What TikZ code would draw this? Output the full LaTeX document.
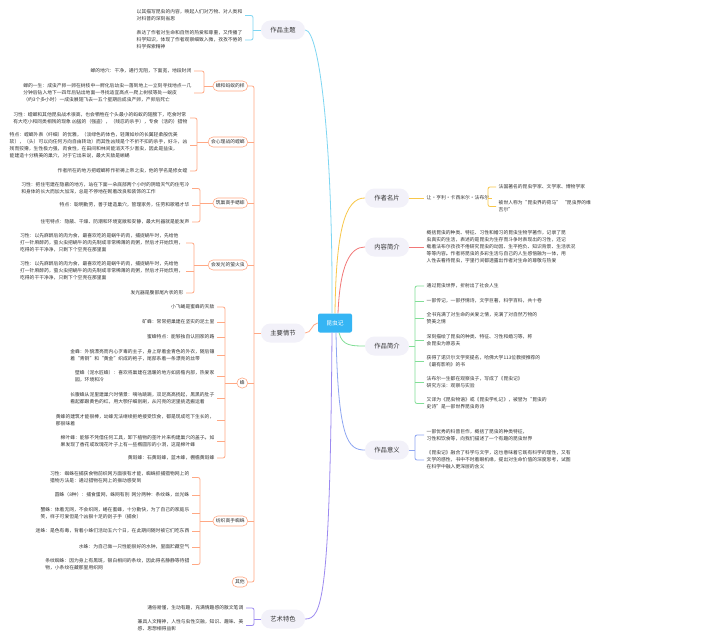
\documentclass[tikz,border=0pt]{standalone}
\usepackage{fontspec}
\setmainfont{Noto Sans CJK SC}
\usetikzlibrary{calc}
\definecolor{cyanC}{HTML}{7ED6F2}
\definecolor{yellowC}{HTML}{F8C74A}
\definecolor{redC}{HTML}{F27878}
\definecolor{greenC}{HTML}{82DE97}
\definecolor{blueC}{HTML}{8EA6F2}
\definecolor{orangeC}{HTML}{FFA884}
\definecolor{purpleC}{HTML}{9C8AF0}
\definecolor{pillbg}{HTML}{F2F1F9}
\definecolor{rootC}{HTML}{35B5F4}
\definecolor{txt}{HTML}{333333}
\begin{document}
\begin{tikzpicture}[x=1pt,y=-1pt,
  leaf/.style={font=\fontsize{4.8pt}{7pt}\selectfont, text=txt, inner xsep=2.5pt, inner ysep=1pt, align=left},
  leafL/.style={leaf, anchor=east},
  leafR/.style={leaf, anchor=west},
  mainpill/.style={rounded corners=9.5pt, fill=pillbg, minimum width=44pt, minimum height=19pt, inner sep=0pt, font=\fontsize{6.3pt}{7pt}\selectfont, text=txt},
  subpill/.style={draw=orangeC, line width=0.6pt, fill=white, rounded corners=5pt, minimum height=10pt, inner xsep=3pt, inner ysep=0pt, font=\fontsize{4.8pt}{6pt}\selectfont, text=txt, anchor=east},
  rootbox/.style={fill=rootC, rounded corners=2pt, minimum width=34pt, minimum height=19pt, inner sep=0pt, text=white, font=\fontsize{5.8pt}{7pt}\selectfont},
  conn/.style={line width=0.8pt},
  brk/.style={line width=0.8pt, rounded corners=2pt}
]
\useasboundingbox (0,0) rectangle (720,642);
\fill[white] (0,0) rectangle (720,642);

% ---------- main nodes ----------
\node[rootbox] (root) at (335,323) {昆虫记};
\node[mainpill] (theme) at (283,30) {作品主题};
\node[mainpill] (plot) at (283,333) {主要情节};
\node[mainpill] (art) at (283,619) {艺术特色};
\node[mainpill] (author) at (387,198) {作者名片};
\node[mainpill] (content) at (387,247) {内容简介};
\node[mainpill] (intro) at (387,346) {作品简介};
\node[mainpill] (meaning) at (387,450) {作品意义};

% ---------- root connectors ----------
\draw[conn,cyanC] ([xshift=-3pt]root.north) .. controls (333,150) and (320,30) .. (theme.east);
\draw[conn,yellowC] (root.north) .. controls (336,230) and (345,198) .. (author.west);
\draw[conn,redC] ([xshift=3pt]root.north) .. controls (340,265) and (350,247) .. (content.west);
\draw[conn,orangeC] (root.west) .. controls (311,324) and (312,333) .. (plot.east);
\draw[conn,purpleC] ([xshift=-3pt]root.south) .. controls (330,600) and (322,619) .. (art.east);
\draw[conn,blueC] ([xshift=1pt]root.south) .. controls (338,440) and (348,450) .. (meaning.west);
\draw[conn,greenC] ([xshift=4pt]root.south) .. controls (342,346) and (352,346) .. (intro.west);

% ---------- 作品主题 ----------
\coordinate (bTheme) at (253,30);
\node[leafL] (t1) at (245,15.5) {以其描写昆虫的内容，唤起人们对万物、对人类和\\对科普的深刻省思};
\node[leafL] (t2) at (245,40) {表达了作者对生命和自然的热爱和尊重，又传播了\\科学知识，体现了作者观察细致入微，孜孜不倦的\\科学探索精神};
\draw[brk,cyanC] (t1.east) -- (bTheme |- t1.east) -- (bTheme |- t2.east) -- (t2.east);
\draw[conn,cyanC] (theme.west) -- (bTheme |- theme.west);

% ---------- 主要情节 sub pills ----------
\coordinate (bPlot) at (254,333);
\node[subpill] (sCicada) at (248,86) {蝉和蚂蚁的样};
\node[subpill] (sMantis) at (248,142) {会心理战的螳螂};
\node[subpill] (sCricket) at (248,203) {筑巢高手蟋蟀};
\node[subpill] (sFirefly) at (248,265) {会发光的萤火虫};
\node[subpill] (sBee) at (248,383) {蜂};
\node[subpill] (sSpider) at (248,521) {纺织高手蜘蛛};
\node[subpill] (sOther) at (248,582) {其他};
\draw[brk,orangeC] (sCicada.east) -- (bPlot |- sCicada.east) -- (bPlot |- sOther.east) -- (sOther.east);
\foreach \n in {sMantis,sCricket,sFirefly,sBee,sSpider}
  \draw[conn,orangeC] (\n.east) -- (bPlot |- \n.east);
\draw[conn,orangeC] (plot.west) -- (bPlot);

% 蝉
\coordinate (bCicada) at (204,86);
\node[leafL] (c1) at (194,71) {蝉的地穴：干净，通行无阻，下面宽，地段封闭};
\node[leafL] (c2) at (194,93) {蝉的一生：成虫产卵一卵在树枝中一孵化后幼虫一落到地上一立刻寻找地点一几\\分钟后钻入地下一四年后钻出地面一寻找适宜高点一爬上树枝等处一蜕皮\\（约3个多小时）一成虫展翅飞去一五个星期后成虫产卵，产卵后死亡};
\draw[brk,orangeC] (c1.east) -- (bCicada |- c1.east) -- (bCicada |- c2.east) -- (c2.east);
\draw[conn,orangeC] (sCicada.west) -- (bCicada |- sCicada.west);

% 螳螂
\coordinate (bMantis) at (197,142);
\node[leafL] (m1) at (190,118) {习性：螳螂和其他昆虫战术很高，也会牺牲在个头最小的蚂蚁的翅膀下，吃食时常\\有大吃小和同类相残的现象 凶猛的（强盗），（残忍的杀手），专食（活的）猎物};
\node[leafL] (m2) at (190,145) {特点：螳螂外表（纤细）的优雅，（淡绿色的体色，轻薄如纱的长翼轻柔般优美\\软），（头）可以向任何方向自由转动）而其性凶残是个不折不扣的杀手，好斗，凶\\残而狡猾，生性极力强，肉食性，在田间和林间能消灭不少害虫，因此是益虫，\\能建造十分精美的巢穴，对于它出来说，最大天敌是蜥蜴};
\node[leafL] (m3) at (190,171) {作者所在的地方把螳螂称作祈祷上帝之虫，他的学名是修女螳};
\draw[brk,orangeC] (m1.east) -- (bMantis |- m1.east) -- (bMantis |- m3.east) -- (m3.east);
\draw[conn,orangeC] (m2.east) -- (bMantis |- m2.east);
\draw[conn,orangeC] (sMantis.west) -- (bMantis |- sMantis.west);

% 蟋蟀
\coordinate (bCricket) at (200,203);
\node[leafL] (x1) at (192,188.5) {习性：把住宅建在隐蔽的地方，站在下面一朵底部两个小时的阴暗天气的住宅冷\\和身体的长大而加大加深，总是不停地在砌着改良和装饰的工作};
\node[leafL] (x2) at (192,205) {特点：聪明勤劳，善于建造巢穴，管理家务，任劳和歌唱才华};
\node[leafL] (x3) at (192,222) {住宅特点：隐蔽、干燥、防潮和环境宽敞和安静，最大利器就是能发声};
\draw[brk,orangeC] (x1.east) -- (bCricket |- x1.east) -- (bCricket |- x3.east) -- (x3.east);
\draw[conn,orangeC] (x2.east) -- (bCricket |- x2.east);
\draw[conn,orangeC] (sCricket.west) -- (bCricket |- sCricket.west);

% 萤火虫
\coordinate (bFirefly) at (194,265);
\node[leafL] (y1) at (186,243) {习性：以先麻醉后的肉为食，最喜欢吃的是蜗牛的肉，捕捉蜗牛时，先给他\\打一针麻醉药，萤火虫把蜗牛的肉先制成非常稀薄的肉粥，然后才开始饮用，\\吃得的干干净净，只剩下个空壳在那里面};
\node[leafL] (y2) at (186,271) {习性：以先麻醉后的肉为食，最喜欢吃的是蜗牛的肉，捕捉蜗牛时，先给他\\打一针麻醉药，萤火虫把蜗牛的肉先制成非常稀薄的肉粥，然后才开始饮用，\\吃得的干干净净，只剩下个空壳在那里面};
\node[leafL] (y3) at (186,293) {发光器是腹部尾片状的形};
\draw[brk,orangeC] (y1.east) -- (bFirefly |- y1.east) -- (bFirefly |- y3.east) -- (y3.east);
\draw[conn,orangeC] (y2.east) -- (bFirefly |- y2.east);
\draw[conn,orangeC] (sFirefly.west) -- (bFirefly |- sFirefly.west);

% 蜂
\coordinate (bBee) at (225,383);
\node[leafL] (f1) at (217,307) {小飞蝇是蜜蜂的天敌};
\node[leafL] (f2) at (217,322) {矿蜂：常常把巢建在坚实的泥土里};
\node[leafL] (f3) at (217,337) {蜜蜂特点：能够独自认回家的路};
\node[leafL] (f4) at (217,355.5) {金蜂：外貌漂亮而内心歹毒的主子，身上穿着金青色的外衣，随后镶\\着“青铜”和“黄金”织成的袍子，尾部系着一条漂亮的丝带};
\node[leafL] (f5) at (217,376.5) {壁蜂（泥水匠蜂）：喜欢将巢建在温暖的地方如房檐内部，热爱家\\园，环境和冷};
\node[leafL] (f6) at (217,398) {长腹蜂从泥里建巢穴时情景：嘀咕跳跳，双足高高扬起，黑黑的肚子\\看起都跟黄色的红，用大颚仔细刮刷，从闪亮的泥里挑选搬运着};
\node[leafL] (f7) at (217,420) {黄蜂的建筑才能很棒，幼蜂无法继续拒绝接受饮食，都是现成吃下生长的，\\那很味着};
\node[leafL] (f8) at (217,441) {棉叶蜂：能够不凭借任何工具，卸下植物的茎叶片来构建巢穴的盖子。如\\果发现了香花或玫瑰花叶子上有一些椭圆形的小洞，这是棉叶蜂};
\node[leafL] (f9) at (217,458) {黄斑蜂：石黄斑蜂，蓝木蜂，棚檐黄斑蜂};
\draw[brk,orangeC] (f1.east) -- (bBee |- f1.east) -- (bBee |- f9.east) -- (f9.east);
\foreach \n in {f2,f3,f4,f5,f6,f7,f8}
  \draw[conn,orangeC] (\n.east) -- (bBee |- \n.east);
\draw[conn,orangeC] (sBee.west) -- (bBee |- sBee.west);

% 蜘蛛
\coordinate (bSpider) at (200,521);
\node[leafL] (s1) at (192,477.5) {习性：蜘蛛在捕获食物前织网方面很有才能，蜘蛛抓捕猎物网上的\\猎物方法是：通过猎物在网上的振动感受到};
\node[leafL] (s2) at (192,495) {圆蛛（8种）：捕食蛋网，蛛网有别\ \ 网分两种：条纹蛛，丝光蛛};
\node[leafL] (s3) at (192,513.5) {蟹蛛：体着无网，不会织网，蜷在蜜蜂，十分勤快，为了自己的家庭乐\\笑，样子可爱但是个凶狠十足的刽子手（捕食）};
\node[leafL] (s4) at (192,531) {迷蛛：是色有毒，背着小蛛们活动五六个日，在此期间随时被它们吃东西};
\node[leafL] (s5) at (192,547) {水蛛：为自己做一只性能很好的水钟，里面贮藏空气};
\node[leafL] (s6) at (192,564.5) {条纹蜘蛛：因为身上有黑斑，银白相间的条纹，因此得名静静等待猎\\物，小条纹在藏那里用织网};
\draw[brk,orangeC] (s1.east) -- (bSpider |- s1.east) -- (bSpider |- s6.east) -- (s6.east);
\foreach \n in {s2,s3,s4,s5}
  \draw[conn,orangeC] (\n.east) -- (bSpider |- \n.east);
\draw[conn,orangeC] (sSpider.west) -- (bSpider |- sSpider.west);

% ---------- 艺术特色 ----------
\coordinate (bArt) at (254,619);
\node[leafL] (a1) at (246,608) {通俗易懂，生动有趣，充满情趣感的散文笔调};
\node[leafL] (a2) at (246,625.5) {兼具人文精神，人性与虫性交融，知识、趣味、美\\感、思想相得益彰};
\draw[brk,purpleC] (a1.east) -- (bArt |- a1.east) -- (bArt |- a2.east) -- (a2.east);
\draw[conn,purpleC] (art.west) -- (bArt |- art.west);

% ---------- 作者名片 ----------
\node[leafR] (n0) at (424,198) {让·亨利·卡西米尔·法布尔};
\draw[conn,yellowC] (author.east) -- (n0.west);
\coordinate (bAuthor) at (488,198);
\node[leafR] (n1) at (496,187) {法国著名的昆虫学家、文学家、博物学家};
\node[leafR] (n2) at (496,206.5) {被世人称为“昆虫界的荷马” “昆虫界的维\\吉尔”};
\draw[brk,yellowC] (n1.west) -- (bAuthor |- n1.west) -- (bAuthor |- n2.west) -- (n2.west);
\draw[conn,yellowC] (n0.east) -- (bAuthor |- n0.east);

% ---------- 内容简介 ----------
\node[leafR] (k1) at (424,247) {概括昆虫的种类、特征、习性和婚习的昆虫生物学著作，记录了昆\\虫真实的生活，表述的是昆虫为生存而斗争时表现出的习性，还记\\载着法布尔孜孜不倦研究昆虫的动因、生平抱负、知识背景、生活状况\\等等内容。作者将昆虫的多彩生活与自己的人生感悟融为一体，用\\人性去看待昆虫，字里行间都透露出作者对生命的尊敬与热爱};
\draw[conn,redC] (content.east) -- (k1.west);

% ---------- 作品简介 ----------
\coordinate (bIntro) at (415,346);
\node[leafR] (p1) at (424,286) {通过昆虫世界，折射出了社会人生};
\node[leafR] (p2) at (424,301) {一部传记，一部抒情诗，文学巨著，科学百科，共十卷};
\node[leafR] (p3) at (424,318.5) {全书充满了对生命的关爱之情，充满了对自然万物的\\赞美之情};
\node[leafR] (p4) at (424,340.5) {深刻描绘了昆虫的种类、特征、习性和婚习等，称\\会昆虫为原恶夫};
\node[leafR] (p5) at (424,361.5) {获得了诺贝尔文学奖提名，哈佛大学113位教授推荐的\\《最有影响》的书};
\node[leafR] (p6) at (424,382.5) {法布尔一生都在观察虫子，写成了《昆虫记》\\研究方法：观察与实验};
\node[leafR] (p7) at (424,403.5) {又译为《昆虫物语》或《昆虫学札记》，被誉为“昆虫的\\史诗”是一部世界昆虫奇诗};
\draw[brk,greenC] (p1.west) -- (bIntro |- p1.west) -- (bIntro |- p7.west) -- (p7.west);
\foreach \n in {p2,p3,p4,p5,p6}
  \draw[conn,greenC] (\n.west) -- (bIntro |- \n.west);
\draw[conn,greenC] (intro.east) -- (bIntro);

% ---------- 作品意义 ----------
\coordinate (bMeaning) at (415,450);
\node[leafR] (q1) at (424,435) {一部优秀的科普巨作，概括了昆虫的种类特征，\\习性和饮食等，向我们描述了一个有趣的昆虫世界};
\node[leafR] (q2) at (424,460) {《昆虫记》融合了科学与文学，这也意味着它既有科学的理性，又有\\文学的感性，书中不时着眼机缘，提出对生命价值的深度思考，试图\\在科学中融入更深层的含义};
\draw[brk,blueC] (q1.west) -- (bMeaning |- q1.west) -- (bMeaning |- q2.west) -- (q2.west);
\draw[conn,blueC] (meaning.east) -- (bMeaning);
\end{tikzpicture}
\end{document}
